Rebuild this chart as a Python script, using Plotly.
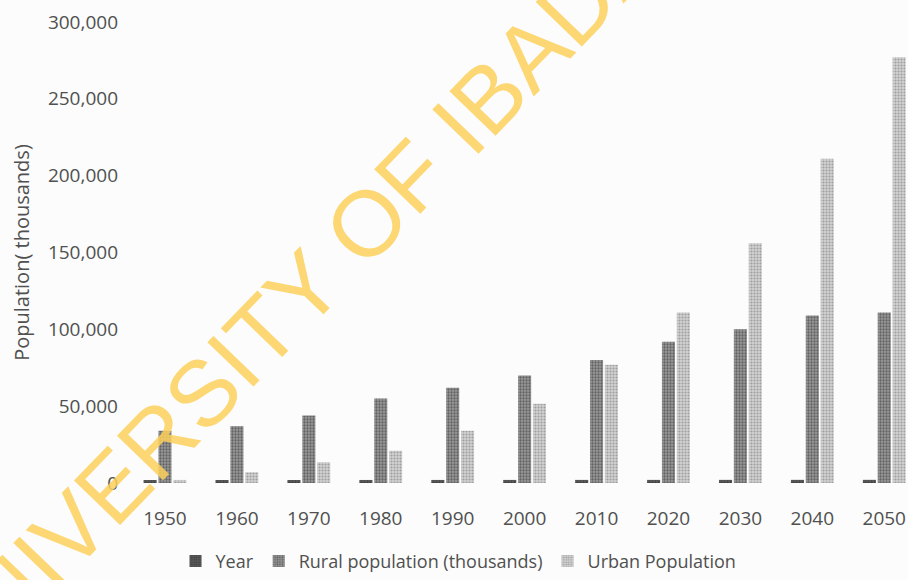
import plotly.graph_objects as go

years = ["1950", "1960", "1970", "1980", "1990", "2000", "2010", "2020", "2030", "2040", "2050"]
year_values = [1950, 1960, 1970, 1980, 1990, 2000, 2010, 2020, 2030, 2040, 2050]
rural = [34000, 37000, 44000, 55000, 62000, 70000, 80000, 92000, 100000, 109000, 111000]
urban = [2000, 7000, 13500, 21000, 34000, 51500, 77000, 111000, 156000, 211000, 277000]
y_ticks = [0, 50000, 100000, 150000, 200000, 250000, 300000]
watermark = "UNIVERSITY OF IBADAN"

FONT = "Open Sans"
TXT = "#505050"

fig = go.Figure()
fig.add_trace(go.Bar(
    x=years, y=year_values, name="Year",
    marker=dict(color="#444444", line=dict(width=0),
                pattern=dict(shape=".", fgcolor="#222222", bgcolor="#5a5a5a", size=3, solidity=0.4)),
))
fig.add_trace(go.Bar(
    x=years, y=rural, name="Rural population (thousands)",
    marker=dict(color="#6e6e6e", line=dict(width=0),
                pattern=dict(shape=".", fgcolor="#2a2a2a", bgcolor="#9a9a9a", size=3, solidity=0.45)),
))
fig.add_trace(go.Bar(
    x=years, y=urban, name="Urban Population",
    marker=dict(color="#b5b5b5", line=dict(width=0),
                pattern=dict(shape=".", fgcolor="#6a6a6a", bgcolor="#d2d2d2", size=3, solidity=0.4)),
))

fig.add_annotation(
    text=watermark, xref="paper", yref="paper", x=0.2375, y=0.444,
    xanchor="center", yanchor="middle", textangle=-46, showarrow=False,
    font=dict(family="Liberation Sans", size=93, color="rgba(252,208,90,0.85)"),
)

fig.update_layout(
    width=908, height=580,
    margin=dict(l=129, r=0, t=22, b=92),
    paper_bgcolor="#fbfcfb", plot_bgcolor="#fbfcfb",
    barmode="group", bargap=0.38, bargroupgap=0.12,
    font=dict(family=FONT, size=18, color=TXT),
    showlegend=True,
    legend=dict(orientation="h", x=0.423, y=-0.17, xanchor="center", yanchor="middle",
                font=dict(family=FONT, size=18, color=TXT), traceorder="normal",
                bgcolor="rgba(0,0,0,0)"),
    xaxis=dict(range=[-0.5, 10.33], showgrid=False, showline=False, zeroline=False,
               ticks="", tickfont=dict(family=FONT, size=19, color=TXT), ticklabelstandoff=22),
    yaxis=dict(range=[0, 300000], tickvals=y_ticks, tickformat=",", showgrid=False,
               showline=False, zeroline=False, ticks="",
               tickfont=dict(family=FONT, size=19, color=TXT), ticklabelstandoff=10,
               title=dict(text="Population( thousands)", font=dict(family=FONT, size=20, color=TXT),
                          standoff=12)),
)

fig.write_html("out.html")
